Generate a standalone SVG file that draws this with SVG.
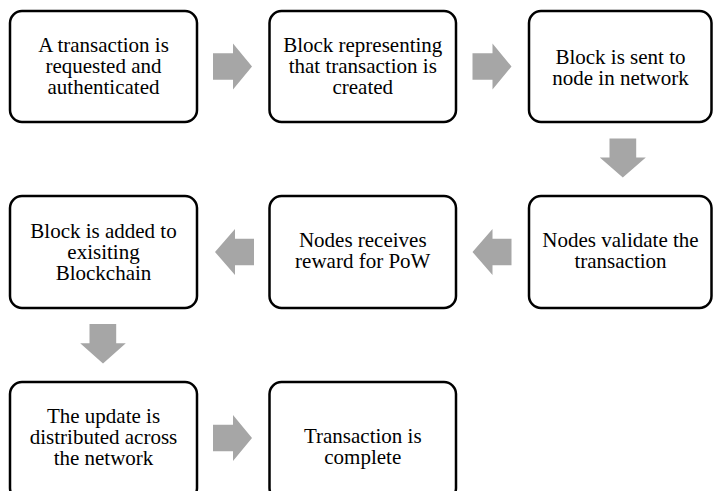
<svg xmlns="http://www.w3.org/2000/svg" width="713" height="491" viewBox="0 0 713 491">
<style>
.box{fill:#fff;stroke:#000;stroke-width:2.5}
text{font-family:'Liberation Serif','Times New Roman',Times,'DejaVu Serif',serif;font-size:21px;fill:#000;text-anchor:middle}
.arr{fill:#a6a6a6;stroke:none}
</style>
<rect width="713" height="491" fill="#fff"/>
<g id="connectors">
<path class="arr" d="M213,53.2 H233 V43.5 L252,66.5 L233,89.5 V79.8 H213 Z"/>
<path class="arr" d="M472.5,53.2 H492.5 V43.5 L511.5,66.5 L492.5,89.5 V79.8 H472.5 Z"/>
<path class="arr" d="M609.5,138.5 H636.2 V157.5 H645.8 L622.8,177.5 L599.8,157.5 H609.5 Z"/>
<path class="arr" d="M511.5,238.7 H492.5 V229 L472.5,252 L492.5,275 V265.3 H511.5 Z"/>
<path class="arr" d="M254,238.7 H235 V229 L215,252 L235,275 V265.3 H254 Z"/>
<path class="arr" d="M89.5,324 H116.2 V343.3 H125.8 L103,363.5 L80.2,343.3 H89.5 Z"/>
<path class="arr" d="M213,424.7 H233 V415 L252,438 L233,461 V451.3 H213 Z"/>
</g>
<g id="n1"><rect class="box" x="10" y="11" width="187" height="111" rx="12"/>
<text x="103.5" y="52" font-family="Liberation Serif, serif">A transaction is</text><text x="103.5" y="73" font-family="Liberation Serif, serif">requested and</text><text x="103.5" y="94" font-family="Liberation Serif, serif">authenticated</text></g>
<g id="n2"><rect class="box" x="269.5" y="11" width="186.5" height="111" rx="12"/>
<text x="362.75" y="52">Block representing</text><text x="362.75" y="73">that transaction is</text><text x="362.75" y="94">created</text></g>
<g id="n3"><rect class="box" x="529" y="11" width="182.5" height="111" rx="12"/>
<text x="620.5" y="63.5">Block is sent to</text><text x="620.5" y="84.5">node in network</text></g>
<g id="n6"><rect class="box" x="529" y="196" width="182.5" height="112" rx="12"/>
<text x="620.5" y="247">Nodes validate the</text><text x="620.5" y="268">transaction</text></g>
<g id="n5"><rect class="box" x="269.5" y="196" width="186.5" height="112" rx="12"/>
<text x="362.75" y="247">Nodes receives</text><text x="362.75" y="268">reward for PoW</text></g>
<g id="n4"><rect class="box" x="10" y="196" width="187" height="112" rx="12"/>
<text x="103.5" y="237.5">Block is added to</text><text x="103.5" y="258.5">exisiting</text><text x="103.5" y="279.5">Blockchain</text></g>
<g id="n7"><rect class="box" x="10" y="382" width="187" height="118" rx="12"/>
<text x="103.5" y="423">The update is</text><text x="103.5" y="444">distributed across</text><text x="103.5" y="465">the network</text></g>
<g id="n8"><rect class="box" x="269.5" y="382" width="186.5" height="118" rx="12"/>
<text x="362.75" y="443">Transaction is</text><text x="362.75" y="464">complete</text></g>
</svg>
